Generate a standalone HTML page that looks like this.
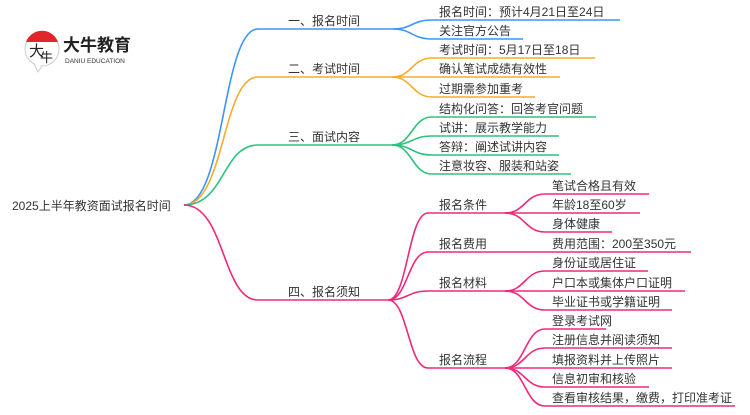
<!DOCTYPE html>
<html><head><meta charset="utf-8"><style>
html,body{margin:0;padding:0;background:#fff;}
svg text{font-family:"Liberation Sans","Noto Sans CJK SC",sans-serif;font-size:12px;fill:#333;}
</style></head><body>
<svg width="750" height="410" viewBox="0 0 750 410" xmlns="http://www.w3.org/2000/svg" fill="none" stroke-width="1.6">
<!-- logo -->
<circle cx="42" cy="49" r="17" fill="#fff" stroke="#ccc" stroke-width="1"/>
<path d="M26,42 A17,17 0 0 1 58,42 Z" fill="#e0262b" stroke="none"/>
<path d="M34,64 L38,72 L42,66" fill="#fff" stroke="#ccc" stroke-width="1"/>
<text x="29" y="56" style="font-size:15px;fill:#222">大</text>
<text x="40" y="62" style="font-size:13px;fill:#222">牛</text>
<text x="63" y="51" style="font-size:17px;font-weight:bold;fill:#222">大牛教育</text>
<text x="65" y="63" style="font-size:6.5px;fill:#333">DANIU EDUCATION</text>
<!-- root -->
<text x="12" y="210">2025上半年教资面试报名时间</text>
<g stroke="#3c96f5"><path d="M184,205 C225,205 222,29 258,29 L393,29"/>
<path d="M393,29 C412,29 412,20 432,20 L620,20"/><path d="M393,29 C412,29 412,39 432,39 L523,39"/></g>
<g stroke="#f5ac2a"><path d="M184,205 C225,205 222,77 258,77 L392,77"/>
<path d="M392,77 C412,77 412,58 432,58 L595,58"/><path d="M392,77 L560,77"/><path d="M392,77 C412,77 412,97 432,97 L535,97"/></g>
<g stroke="#2ec27e"><path d="M184,205 C225,205 222,145 258,145 L392,145"/>
<path d="M392,145 C412,145 412,117 432,117 L596,117"/><path d="M392,145 C412,145 412,136 432,136 L559,136"/><path d="M392,145 C412,145 412,155 432,155 L559,155"/><path d="M392,145 C412,145 412,174 432,174 L571,174"/></g>
<g stroke="#f0287a"><path d="M184,205 C225,205 222,300 258,300 L388,300"/>
<path d="M388,300 C408,300 408,213 428,213 L505,213"/><path d="M388,300 C408,300 408,252 428,252 L691,252"/><path d="M388,300 C408,300 408,291 428,291 L505,291"/><path d="M388,300 C408,300 408,368 428,368 L505,368"/>
<path d="M505,213 C525,213 525,194 545,194 L649,194"/><path d="M505,213 L640,213"/><path d="M505,213 C525,213 525,232 545,232 L612,232"/>
<path d="M505,291 C525,291 525,271 545,271 L648,271"/><path d="M505,291 L685,291"/><path d="M505,291 C525,291 525,310 545,310 L672,310"/>
<path d="M505,368 C525,368 525,329 545,329 L606,329"/><path d="M505,368 C525,368 525,348 545,348 L672,348"/><path d="M505,368 L672,368"/><path d="M505,368 C525,368 525,387 545,387 L649,387"/><path d="M505,368 C525,368 525,406 545,406 L735,406"/></g>
<text x="288" y="25">一、报名时间</text>
<text x="288" y="73">二、考试时间</text>
<text x="288" y="141">三、面试内容</text>
<text x="288" y="296">四、报名须知</text>
<text x="439" y="16">报名时间：预计4月21日至24日</text>
<text x="439" y="35">关注官方公告</text>
<text x="439" y="54">考试时间：5月17日至18日</text>
<text x="439" y="73">确认笔试成绩有效性</text>
<text x="439" y="93">过期需参加重考</text>
<text x="439" y="113">结构化问答：回答考官问题</text>
<text x="439" y="132">试讲：展示教学能力</text>
<text x="439" y="151">答辩：阐述试讲内容</text>
<text x="439" y="170">注意妆容、服装和站姿</text>
<text x="439" y="209">报名条件</text>
<text x="439" y="248">报名费用</text>
<text x="439" y="287">报名材料</text>
<text x="439" y="364">报名流程</text>
<text x="552" y="190">笔试合格且有效</text>
<text x="552" y="209">年龄18至60岁</text>
<text x="552" y="228">身体健康</text>
<text x="552" y="248">费用范围：200至350元</text>
<text x="552" y="267">身份证或居住证</text>
<text x="552" y="287">户口本或集体户口证明</text>
<text x="552" y="306">毕业证书或学籍证明</text>
<text x="552" y="325">登录考试网</text>
<text x="552" y="344">注册信息并阅读须知</text>
<text x="552" y="364">填报资料并上传照片</text>
<text x="552" y="383">信息初审和核验</text>
<text x="552" y="402">查看审核结果，缴费，打印准考证</text>
</svg>
</body></html>
